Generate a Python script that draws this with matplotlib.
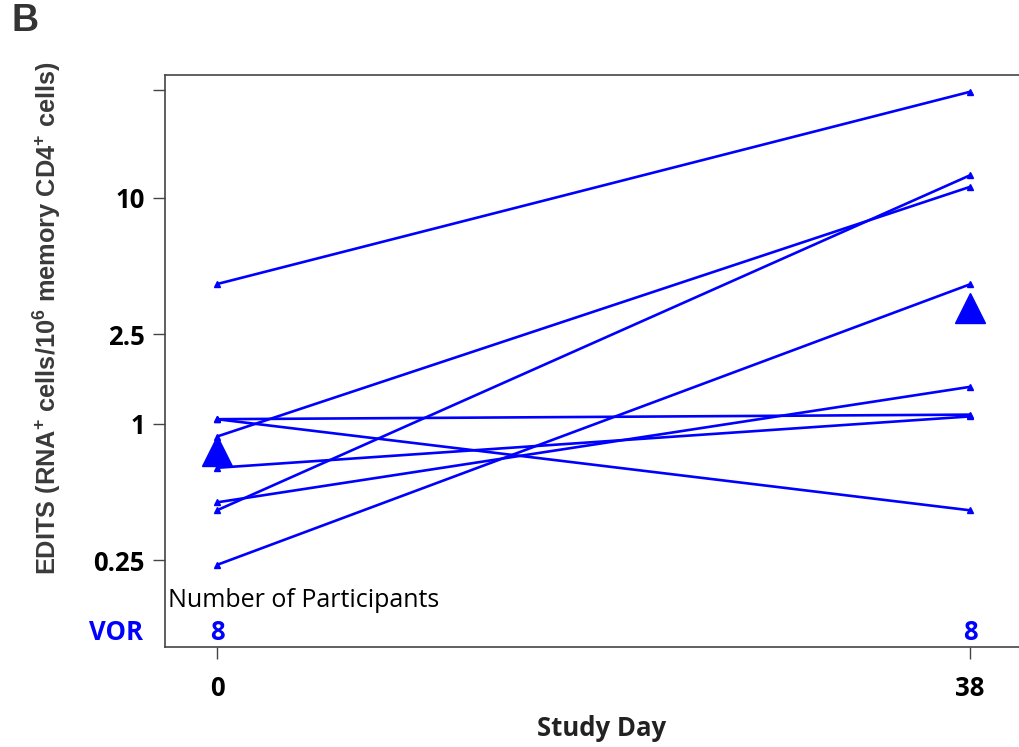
import numpy as np
import matplotlib
matplotlib.use("Agg")
import matplotlib.pyplot as plt
from matplotlib.transforms import blended_transform_factory

plt.rcParams["mathtext.default"] = "regular"

# Study days and per-participant EDITS values (RNA+ cells / 10^6 memory CD4+ cells)
days = [0, 38]
day0 = [4.16, 1.05, 1.05, 0.88, 0.64, 0.45, 0.415, 0.238]
day38 = [29.5, 0.415, 1.10, 11.2, 1.08, 1.46, 12.6, 4.15]
group_label = "VOR"
n_participants = [8, 8]
ytick_values = [0.25, 1, 2.5, 10, 30]
ytick_labels = ["0.25", "1", "2.5", "10", ""]

blue = "#0000ff"
W, H = 1020, 747
fig = plt.figure(figsize=(W / 100, H / 100), dpi=100)

def px(x, y):
    """Convert pixel coordinates (from top-left) to figure fractions."""
    return x / W, 1 - y / H

left, top = px(165, 75)
right, bottom = px(1020, 647)
ax = fig.add_axes([left, bottom, right - left, top - bottom])

ax.set_yscale("log")
ax.set_ylim(0.1031, 35.0)
ax.set_xlim(-2.624, 40.52)

# Individual trajectories
for a, b in zip(day0, day38):
    ax.plot(days, [a, b], color=blue, lw=1.9, marker="^", ms=4.5,
            solid_capstyle="butt", zorder=3)

# Geometric mean at each visit
gm = [np.exp(np.mean(np.log(day0))), np.exp(np.mean(np.log(day38)))]
ax.plot(days, gm, linestyle="none", marker="^", ms=21, color=blue, zorder=4)

# Axes styling
for side in ["left", "top", "bottom"]:
    ax.spines[side].set_color("#444444")
    ax.spines[side].set_linewidth(1.2)
ax.spines["right"].set_visible(False)

ax.set_yticks(ytick_values)
ax.set_yticklabels(ytick_labels)
ax.yaxis.set_minor_locator(matplotlib.ticker.NullLocator())
ax.set_xticks(days)
ax.set_xticklabels([str(d) for d in days])
ax.tick_params(axis="both", length=8.5, width=1.0, color="#444444",
               labelsize=18.5, pad=6)
for lab in ax.get_yticklabels() + ax.get_xticklabels():
    lab.set_fontfamily("Open Sans")
    lab.set_fontweight("bold")
ax.tick_params(axis="x", pad=12)

# Participant counts inside the panel
trans = blended_transform_factory(ax.transData, ax.transAxes)
ax.text(-2.47, 0.082, "Number of Participants", transform=trans,
        ha="left", va="center", fontsize=18, family="Open Sans", color="black")
for d, n in zip(days, n_participants):
    ax.text(d, 0.026, str(n), transform=trans, ha="center", va="center",
            fontsize=18.5, family="Open Sans", fontweight="bold", color=blue)
fx, fy = px(143, 632)
fig.text(fx, fy, group_label, ha="right", va="center", fontsize=18.5,
         family="Open Sans", fontweight="bold", color=blue)

# Axis titles
fx, fy = px(602, 729)
fig.text(fx, fy, "Study Day", ha="center", va="center", fontsize=18.5,
         family="Open Sans", fontweight="bold", color="#222222")
fx, fy = px(48, 318)
fig.text(fx, fy, r"EDITS (RNA$^{+}$ cells/10$^{6}$ memory CD4$^{+}$ cells)",
         rotation=90, ha="center", va="center", fontsize=18.3,
         family="Liberation Sans", fontweight="bold", color="#3a3a3a")

# Panel letter
fx, fy = px(12, 21)
fig.text(fx, fy, "B", ha="left", va="center", fontsize=27,
         family="Liberation Sans", fontweight="bold", color="#333333")

fig.savefig("out.png", dpi=100)
